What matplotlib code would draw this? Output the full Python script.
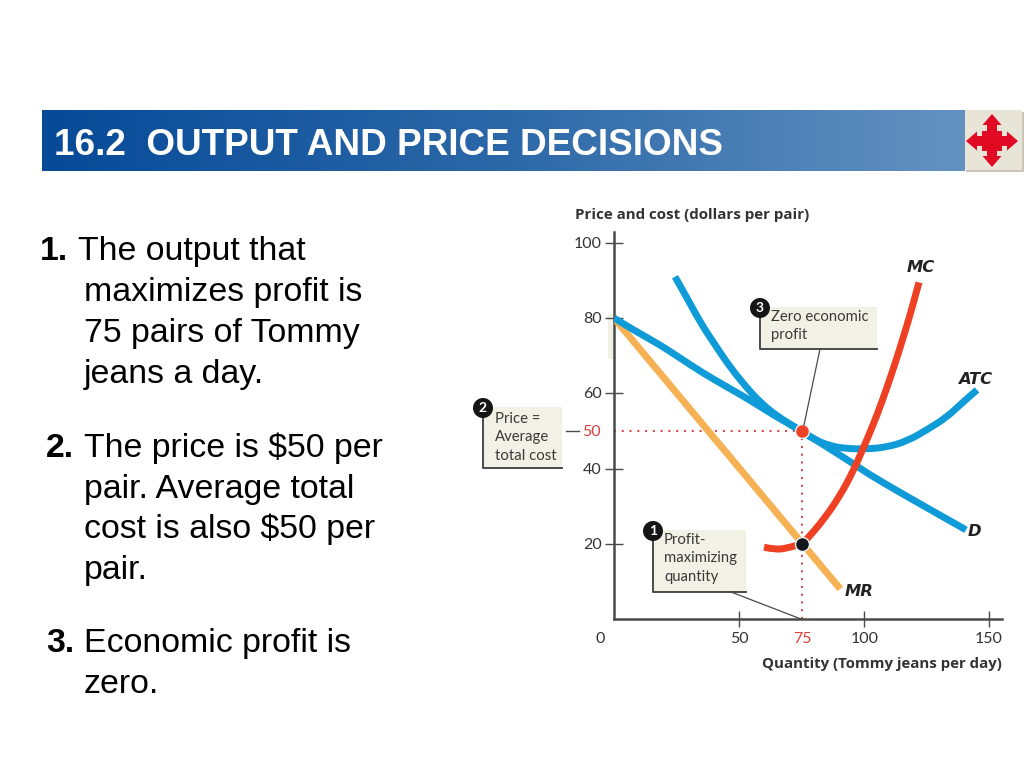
import numpy as np
import matplotlib
matplotlib.use("Agg")
import matplotlib.pyplot as plt
import matplotlib.patches as patches
from matplotlib.path import Path
from matplotlib.colors import LinearSegmentedColormap

# curves (quantity, dollars)
d_x = [0, 9.2, 18.4, 26.4, 35.6, 45.2, 54.4, 63.6, 75, 87.2, 96.4, 103.6, 122.4, 140.8]
d_y = [80, 76.3, 72.9, 69.4, 65.4, 61.7, 58.2, 54.3, 50, 44.9, 41, 37.8, 30.6, 23.7]
mr_x = [0, 90.5]
mr_y = [80, 8]
mc_x = [60, 64.4, 69.6, 75, 77.6, 84.4, 90.4, 95.6, 99.6, 103.6, 107.2, 111.6, 115.6, 119.2, 122]
mc_y = [19.1, 18.4, 18.9, 20, 21.5, 26.9, 32.8, 39.2, 45.3, 51.5, 57.8, 66.2, 74.6, 82.6, 89.5]
atc_x = [24.4, 29.2, 34.4, 40.4, 46.4, 53.2, 58.4, 65.2, 75, 79.6, 86.4, 93.2, 101.2, 109.2,
         117.2, 125.2, 133.2, 139.6, 145.2]
atc_y = [91, 85.4, 79, 72.9, 67, 61.4, 57.7, 53.9, 50, 47.9, 46, 45.3, 45.2, 45.7,
         47.3, 50.3, 53.7, 57.7, 60.9]

y_ticks = [20, 40, 60, 80, 100]
x_ticks = [50, 100, 150]

BLUE = "#0f9bd7"
ORANGE = "#f7b155"
RED = "#ee4123"
BOX = "#f1f1e6"
GREY = "#4a4a4a"
DOT = "#e03a3e"
CHART_FONT = "Lato"
SLIDE_FONT = "Liberation Sans"


def smooth_curve(axes, xs, ys, color, z):
    # read points as quadratic bezier controls, so the corners get rounded
    pts = list(zip(xs, ys))
    verts = [pts[0]]
    codes = [Path.MOVETO]
    for i in range(1, len(pts) - 1):
        end = pts[i + 1]
        if i < len(pts) - 2:
            end = ((pts[i][0] + pts[i + 1][0]) / 2, (pts[i][1] + pts[i + 1][1]) / 2)
        verts += [pts[i], end]
        codes += [Path.CURVE3, Path.CURVE3]
    axes.add_patch(patches.PathPatch(Path(verts, codes), fc="none", ec=color, lw=5,
                                     capstyle="butt", zorder=z))


fig = plt.figure(figsize=(10.24, 7.68), dpi=100)

# whole slide in pixel coordinates
bg = fig.add_axes([0, 0, 1, 1])
bg.set_xlim(0, 1024)
bg.set_ylim(768, 0)
bg.axis("off")

# title bar
cmap = LinearSegmentedColormap.from_list("bar", ["#064a98", "#2c68a8", "#6492c0"])
bg.imshow(np.linspace(0, 1, 256).reshape(1, -1), cmap=cmap, aspect="auto",
          extent=[42, 965, 171, 110], zorder=1)
bg.set_xlim(0, 1024)
bg.set_ylim(768, 0)
bg.text(54, 155, "16.2  OUTPUT AND PRICE DECISIONS", color="white", fontsize=26.6,
        fontweight="bold", family=SLIDE_FONT, va="baseline", zorder=2)

# the red arrows button
bg.add_patch(patches.Rectangle((966, 112), 58, 60, fc="#c9c5b8", ec="none", zorder=1))
bg.add_patch(patches.Rectangle((965, 110), 57, 60, fc="#e8e4d8", ec="none", zorder=2))
arrows = [(992, 141, 992, 114), (992, 141, 992, 167), (992, 141, 966, 141), (992, 141, 1018, 141)]
for x0, y0, x1, y1 in arrows:
    bg.add_patch(patches.FancyArrow(x0, y0, x1 - x0, y1 - y0, width=10, head_width=19,
                                    head_length=11, length_includes_head=True,
                                    fc="#e00a25", ec="none", zorder=3))
bg.add_patch(patches.Rectangle((982, 131), 20, 20, fc="#e00a25", ec="none", zorder=3))

# left text, y is the baseline
para = [
    (40, 260, "1.", 78, "The output that"),
    (None, 301, None, 84, "maximizes profit is"),
    (None, 342, None, 84, "75 pairs of Tommy"),
    (None, 383, None, 84, "jeans a day."),
    (46, 457, "2.", 84, "The price is $50 per"),
    (None, 498, None, 84, "pair. Average total"),
    (None, 538, None, 84, "cost is also $50 per"),
    (None, 579, None, 84, "pair."),
    (46, 652, "3.", 84, "Economic profit is"),
    (None, 693, None, 84, "zero."),
]
for nx, y, num, tx, line in para:
    if num:
        bg.text(nx, y, num, fontsize=24.4, fontweight="bold", family=SLIDE_FONT,
                va="baseline", color="black")
    bg.text(tx, y, line, fontsize=24.4, family=SLIDE_FONT, va="baseline", color="black")

# chart axes, spine positions measured in pixels
ax = fig.add_axes([614 / 1024, (768 - 619) / 768, (1002 - 614) / 1024, (619 - 232) / 768])
ax.set_xlim(0, 155.2)
ax.set_ylim(0, 102.9)
ax.patch.set_alpha(0)
for s in ["top", "right"]:
    ax.spines[s].set_visible(False)
for s in ["left", "bottom"]:
    ax.spines[s].set_color(GREY)
    ax.spines[s].set_linewidth(1.8)
ax.set_xticks(x_ticks)
ax.set_yticks(y_ticks)
ax.set_xticklabels([])
ax.set_yticklabels([])
ax.tick_params(axis="x", direction="inout", length=11, width=1, color=GREY)
ax.tick_params(axis="y", direction="inout", length=13, width=1, color=GREY)

ax.add_patch(patches.Rectangle((-2.5, 69), 2.5, 12, fc=BOX, ec="none", clip_on=False, zorder=0))

ax.plot([75, 75], [0, 50], color=DOT, ls=(0, (1, 3)), lw=1.4, zorder=2)
ax.plot([0, 75], [50, 50], color=DOT, ls=(0, (1, 3)), lw=1.4, zorder=2)

ax.plot(mr_x, mr_y, color=ORANGE, lw=5, solid_capstyle="butt", zorder=3)
smooth_curve(ax, d_x, d_y, BLUE, 4)
smooth_curve(ax, atc_x, atc_y, BLUE, 4)
smooth_curve(ax, mc_x, mc_y, RED, 5)
ax.plot([75], [50], "o", ms=10, color=RED, mec="#e8f2f6", mew=1, zorder=6)
ax.plot([75], [20], "o", ms=10, color="#14141e", mec="#e8f2f6", mew=1, zorder=6)

# tick labels, axis titles and curve names
tick_kw = dict(family=CHART_FONT, fontsize=11.5, color="#333333", va="center")
for v in y_ticks:
    bg.text(602, 620 - v * 3.76, str(v), ha="right", **tick_kw)
bg.text(601, 432, "50", ha="right", family=CHART_FONT, fontsize=11.5, color="#d8403a", va="center")
bg.plot([566, 579], [431, 431], color=GREY, lw=1)
bg.text(600, 639, "0", ha="center", **tick_kw)
bg.text(739, 639, "50", ha="center", **tick_kw)
bg.text(802, 639, "75", ha="center", family=CHART_FONT, fontsize=11.5, color="#d8403a", va="center")
bg.text(865, 639, "100", ha="center", **tick_kw)
bg.text(989, 639, "150", ha="center", **tick_kw)
bg.text(575, 215, "Price and cost (dollars per pair)", family="Open Sans", fontsize=10.9,
        fontweight="bold", color="#333333", va="center")
bg.text(1002, 664, "Quantity (Tommy jeans per day)", family="Open Sans", fontsize=10.85,
        fontweight="bold", color="#333333", va="center", ha="right")

name_kw = dict(family="DejaVu Sans", fontsize=11.8, fontweight="bold", style="italic",
               color="#222222", va="center")
bg.text(907, 267, "MC", **name_kw)
bg.text(958, 379, "ATC", **name_kw)
bg.text(968, 532, "D", **name_kw)
bg.text(845, 591, "MR", **name_kw)


def callout(x0, y0, x1, y1, number, lines, text_x, text_y):
    # beige note with a dark left and bottom edge and a numbered black disc
    bg.add_patch(patches.Rectangle((x0, y0), x1 - x0, y1 - y0, fc=BOX, ec="none", zorder=5))
    bg.plot([x0, x0, x1], [y0, y1, y1], color=GREY, lw=1.4, zorder=6)
    bg.add_patch(patches.Ellipse((x0, y0 + 1), 20, 20, fc="#151515", ec="none", zorder=7))
    bg.text(x0, y0 + 1, number, color="white", fontsize=10, fontweight="bold",
            family=CHART_FONT, ha="center", va="center", zorder=8)
    for i, line in enumerate(lines):
        bg.text(text_x, text_y + i * 18.3, line, family=CHART_FONT, fontsize=10.7,
                color="#3a3a3a", va="center", zorder=8)


bg.set_zorder(1)
ax.set_zorder(0)
callout(483, 407, 562, 468, "2", ["Price =", "Average", "total cost"], 495, 419)
callout(653, 530, 746, 592, "1", ["Profit-", "maximizing", "quantity"], 664, 540)
callout(760, 307, 877, 349, "3", ["Zero economic", "profit"], 771, 317)

bg.plot([731, 801], [592, 619], color=GREY, lw=0.9, zorder=6)
bg.plot([820, 804], [349, 425], color=GREY, lw=0.9, zorder=4)

fig.savefig("out.png", dpi=100)
